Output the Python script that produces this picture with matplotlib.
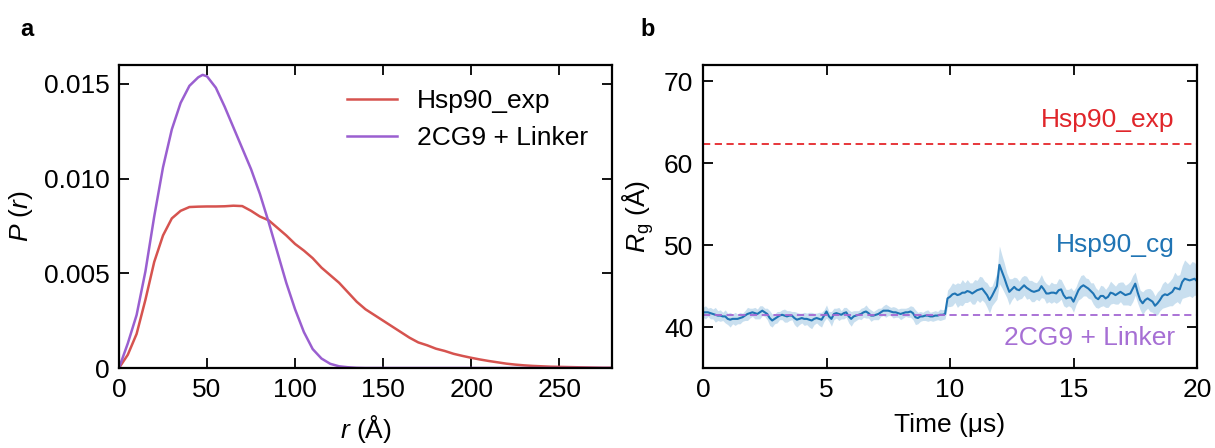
import numpy as np
import matplotlib
matplotlib.use("Agg")
import matplotlib.pyplot as plt

plt.rcParams['font.family'] = ['Liberation Sans', 'DejaVu Sans']
plt.rcParams['mathtext.fontset'] = 'custom'
plt.rcParams['mathtext.it'] = 'Liberation Sans:italic'
plt.rcParams['mathtext.rm'] = 'Liberation Sans'

# ---- Panel a data: pair distance distributions ----
r_exp = [0, 5, 10, 15, 20, 25, 30, 35, 40, 45, 50, 55, 60, 65, 70, 75, 80, 85, 90, 95,
         100, 105, 110, 115, 120, 125, 130, 135, 140, 145, 150, 155, 160, 165, 170, 175,
         180, 185, 190, 195, 200, 205, 210, 215, 220, 225, 230, 235, 240, 245, 250, 255,
         260, 265, 270, 275, 280]
p_exp = [0, 0.0007, 0.0018, 0.0036, 0.0056, 0.0070, 0.0079, 0.0083, 0.0085, 0.00852,
         0.00853, 0.00853, 0.00854, 0.00857, 0.00855, 0.0083, 0.0080, 0.0078, 0.0074, 0.0070,
         0.00655, 0.0062, 0.0058, 0.0053, 0.0049, 0.0045, 0.0040, 0.0035, 0.0031, 0.0028,
         0.0025, 0.0022, 0.0019, 0.0016, 0.00135, 0.0012, 0.00102, 0.0009, 0.00075, 0.00064,
         0.00054, 0.00045, 0.00037, 0.0003, 0.00023, 0.00018, 0.00014, 0.00011, 0.00009,
         0.00007, 0.00006, 0.00005, 0.00004, 0.00003, 0.00002, 0.00001, 0.00001]

r_lnk = [0, 5, 10, 15, 20, 25, 30, 35, 40, 45, 47.5, 50, 55, 60, 65, 70, 75, 80, 85, 90,
         95, 100, 105, 110, 115, 120, 125, 130, 135, 140, 160, 200, 240, 280]
p_lnk = [0, 0.0013, 0.0028, 0.0051, 0.0080, 0.0106, 0.0126, 0.0140, 0.0149, 0.01535,
         0.01548, 0.0154, 0.0148, 0.0138, 0.0127, 0.0116, 0.0105, 0.0092, 0.0077, 0.0061,
         0.0045, 0.0031, 0.0019, 0.0010, 0.00050, 0.00022, 0.00009, 0.00004, 0.00001, 0.0,
         0.0, 0.0, 0.0, 0.0]

# ---- Panel b data: radius of gyration over time (0.1 us steps) ----
time_us = [round(i * 0.1, 1) for i in range(201)]
rg_cg = [41.8, 41.8, 41.8, 41.7, 41.6, 41.5, 41.4, 41.4, 41.3, 41.3,
         41.0, 40.9, 41.0, 41.0, 41.0, 41.1, 41.2, 41.4, 41.6, 41.7,
         41.8, 41.7, 41.6, 41.8, 42.0, 41.8, 41.6, 41.1, 40.8, 41.0,
         41.2, 41.4, 41.5, 41.4, 41.3, 41.4, 41.4, 41.1, 40.9, 41.0,
         41.1, 41.0, 41.0, 40.9, 40.8, 41.0, 41.1, 41.0, 40.9, 41.4,
         41.9, 41.3, 41.0, 41.6, 41.7, 41.6, 41.5, 41.7, 41.8, 41.3,
         41.0, 41.3, 41.4, 41.5, 41.6, 41.8, 41.9, 41.7, 41.4, 41.4,
         41.5, 41.6, 41.8, 42.0, 42.0, 42.0, 41.9, 41.8, 41.8, 41.7,
         41.6, 41.7, 41.8, 41.8, 41.9, 41.7, 41.2, 41.1, 41.3, 41.3,
         41.4, 41.4, 41.3, 41.3, 41.4, 41.4, 41.5, 41.5, 41.6, 43.5,
         43.7, 44.0, 44.1, 43.9, 44.0, 44.2, 44.2, 44.4, 44.3, 44.1,
         44.3, 44.5, 44.6, 44.7, 44.3, 43.9, 43.3, 43.8, 44.4, 45.0,
         47.6, 46.8, 46.0, 45.1, 44.3, 44.6, 44.9, 44.6, 44.5, 44.8,
         45.1, 44.8, 44.6, 44.4, 44.3, 44.4, 44.5, 45.0, 44.6, 44.1,
         44.1, 44.2, 44.2, 44.1, 44.5, 44.6, 43.9, 43.5, 43.6, 43.6,
         43.1, 43.8, 44.5, 44.9, 45.1, 44.9, 44.7, 44.4, 44.1, 43.6,
         43.4, 43.8, 43.8, 43.5, 43.7, 44.2, 44.1, 43.9, 44.1, 44.3,
         44.1, 43.9, 44.0, 44.1, 44.7, 45.3, 44.2, 43.3, 42.9, 43.3,
         43.5, 43.3, 43.1, 42.6, 42.9, 43.3, 43.8, 44.0, 43.9, 44.1,
         44.3, 44.8, 44.7, 44.6, 45.5, 45.9, 45.8, 45.7, 45.8, 45.9,
         45.6]
rg_spread = [0.6, 0.8, 0.5, 0.7, 0.6, 0.9, 0.6, 0.7, 0.5, 0.8,
             0.7, 0.9, 0.6, 0.8, 0.6, 0.7, 0.5, 0.6, 0.8, 0.6,
             0.5, 0.7, 0.6, 0.8, 0.6, 0.5, 0.7, 0.9, 0.8, 0.6,
             0.7, 0.5, 0.6, 0.8, 0.7, 0.6, 0.5, 0.8, 0.9, 0.7,
             0.6, 0.8, 0.7, 0.9, 1.0, 0.7, 0.6, 0.8, 0.9, 0.7,
             0.8, 0.6, 0.9, 0.7, 0.6, 0.8, 0.5, 0.7, 0.6, 0.8,
             0.9, 0.7, 0.6, 0.5, 0.7, 0.6, 0.8, 0.6, 0.7, 0.5,
             0.6, 0.7, 0.5, 0.6, 0.8, 0.6, 0.5, 0.7, 0.6, 0.5,
             0.7, 0.6, 0.5, 0.6, 0.7, 0.8, 0.9, 0.7, 0.6, 0.5,
             0.6, 0.7, 0.5, 0.6, 0.6, 0.5, 0.7, 0.6, 0.6, 1.0,
             1.2, 1.4, 1.1, 1.5, 1.3, 1.6, 1.2, 1.4, 1.1, 1.3,
             1.5, 1.2, 1.6, 1.4, 1.3, 1.5, 1.6, 1.2, 1.4, 1.6,
             2.3, 2.0, 1.8, 1.5, 1.6, 1.3, 1.2, 1.4, 1.1, 1.3,
             1.2, 1.4, 1.1, 1.3, 1.2, 1.0, 1.3, 1.4, 1.1, 1.2,
             1.0, 1.3, 1.1, 1.2, 1.4, 1.2, 1.3, 1.1, 1.0, 1.2,
             1.3, 1.1, 1.2, 1.4, 1.3, 1.1, 1.2, 1.0, 1.3, 1.2,
             1.1, 1.3, 1.2, 1.1, 1.3, 1.4, 1.2, 1.1, 1.3, 1.2,
             1.4, 1.2, 1.3, 1.5, 1.6, 1.4, 1.3, 1.2, 1.4, 1.3,
             1.2, 1.4, 1.3, 1.2, 1.4, 1.3, 1.5, 1.6, 1.4, 1.5,
             1.7, 1.9, 1.6, 1.8, 2.0, 2.3, 2.1, 1.9, 2.2, 2.0,
             1.8]
rg_exp = 62.3
rg_linker = 41.5

c_red = '#d6534f'
c_purple = '#9a5fd0'
c_blue = '#1f74b4'
c_band = '#c3dcee'

fig = plt.figure(figsize=(12.15, 4.48), dpi=100)
axa = fig.add_axes([119/1215, 1-368/448, 493/1215, 303/448])
axb = fig.add_axes([703/1215, 1-368/448, 494/1215, 303/448])

fs = 19
for ax in (axa, axb):
    ax.tick_params(direction='in', top=True, right=True, labelsize=fs, length=7, width=1.3, pad=7)
    for s in ax.spines.values():
        s.set_linewidth(1.6)

# Panel a
axa.plot(r_exp, p_exp, color=c_red, lw=1.8, label='Hsp90_exp', solid_joinstyle='round')
axa.plot(r_lnk, p_lnk, color=c_purple, lw=1.8, label='2CG9 + Linker', solid_joinstyle='round')
axa.set_xlim(0, 280)
axa.set_ylim(0, 0.016)
axa.set_xticks([0, 50, 100, 150, 200, 250])
axa.set_yticks([0, 0.005, 0.010, 0.015])
axa.set_yticklabels(['0', '0.005', '0.010', '0.015'])
axa.set_xlabel(r'$\it{r}$ (Å)', fontsize=fs, labelpad=8)
axa.set_ylabel(r'$\it{P}$ ($\it{r}$)', fontsize=fs, labelpad=6)
axa.legend(loc='upper right', frameon=False, fontsize=fs, handlelength=1.9,
           handletextpad=0.75, borderaxespad=0.5, labelspacing=0.5)

# Panel b
lo = np.array(rg_cg) - np.array(rg_spread)
hi = np.array(rg_cg) + np.array(rg_spread)
axb.fill_between(time_us, lo, hi, color=c_band, lw=0, alpha=0.9)
axb.plot(time_us, rg_cg, color=c_blue, lw=1.5)
axb.axhline(rg_exp, color='#e5262b', lw=1.3, ls=(0, (4, 2.5)))
axb.axhline(rg_linker, color='#a468d3', lw=1.3, ls=(0, (4, 2.5)))
axb.set_xlim(0, 20)
axb.set_ylim(35, 72)
axb.set_xticks([0, 5, 10, 15, 20])
axb.set_yticks([40, 50, 60, 70])
axb.set_xlabel('Time (μs)', fontsize=fs, labelpad=8)
axb.set_ylabel(r'$\it{R}_{\rm g}$ (Å)', fontsize=fs, labelpad=6)
axb.text(19.1, 63.8, 'Hsp90_exp', color='#e0252a', fontsize=fs, ha='right', va='bottom')
axb.text(19.1, 48.5, 'Hsp90_cg', color=c_blue, fontsize=fs, ha='right', va='bottom')
axb.text(19.1, 40.1, '2CG9 + Linker', color='#a66fd4', fontsize=fs, ha='right', va='top')

fig.text(20/1215, 1-30/448, 'a', fontsize=17, fontweight='bold', va='center')
fig.text(640/1215, 1-30/448, 'b', fontsize=17, fontweight='bold', va='center')

fig.savefig('out.png', dpi=100)
